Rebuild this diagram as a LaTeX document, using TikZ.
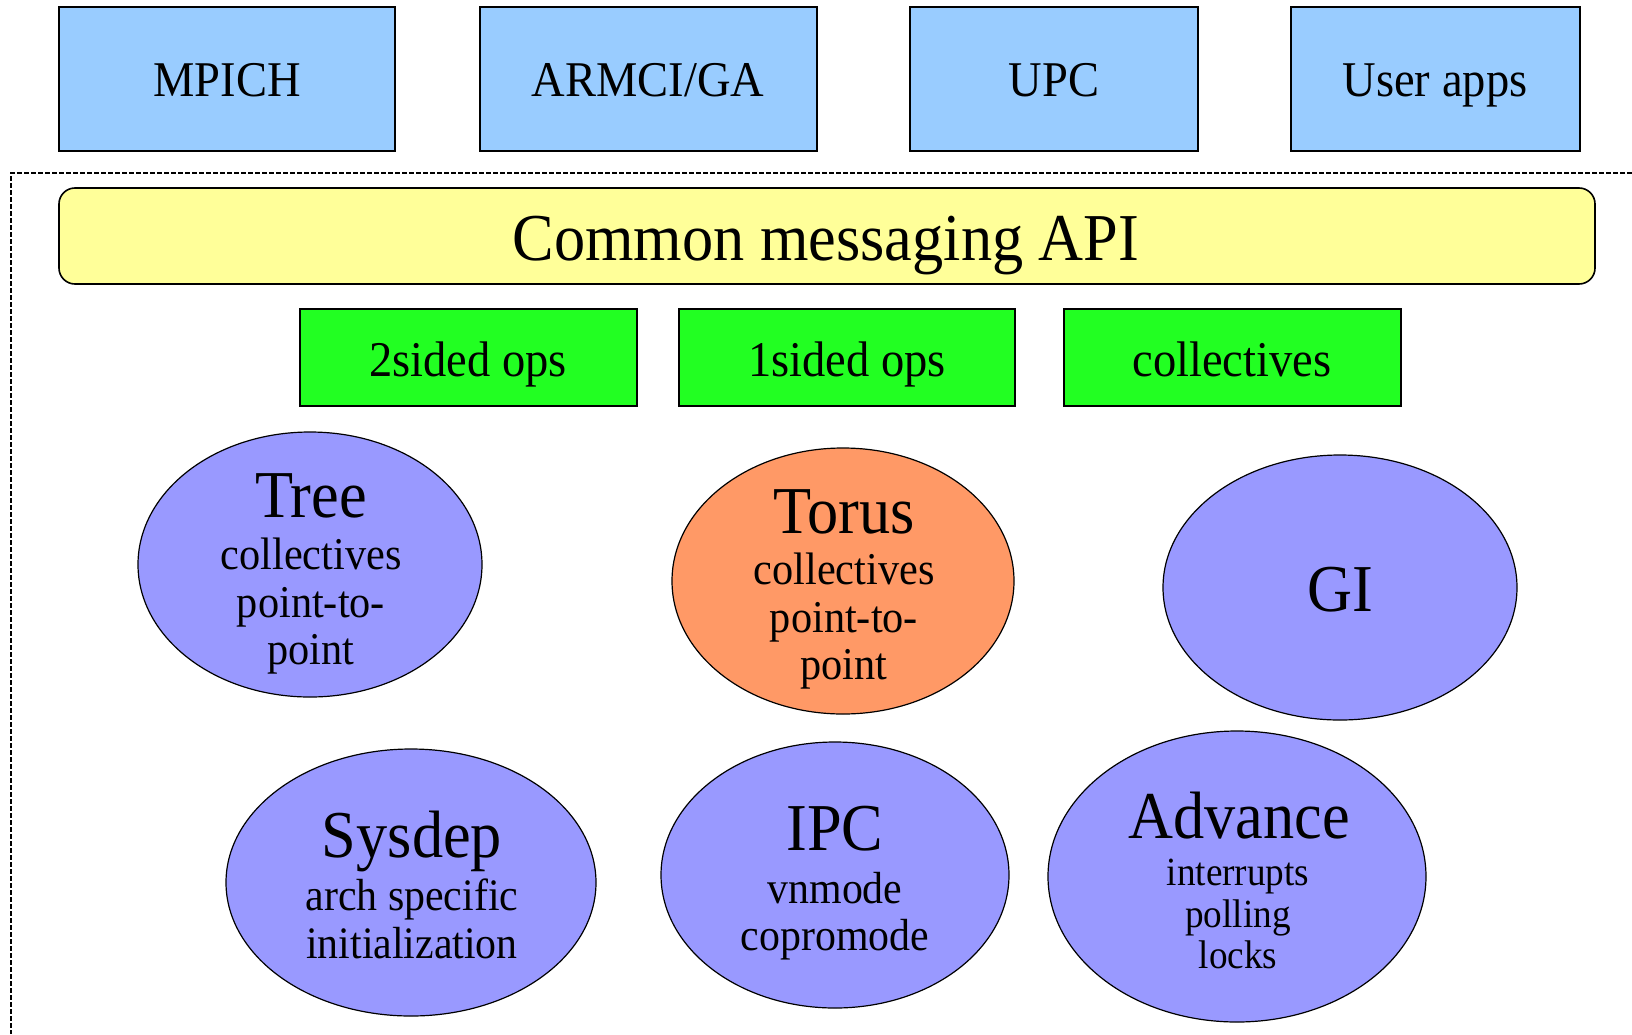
\documentclass[tikz,border=0pt]{standalone}
\usepackage{fontspec}
\usepackage{graphicx}
\setmainfont{Liberation Serif}
\usetikzlibrary{shapes.geometric}
\definecolor{boxblue}{HTML}{99CCFF}
\definecolor{apiyellow}{HTML}{FFFF99}
\definecolor{opsgreen}{HTML}{22FF22}
\definecolor{ellblue}{HTML}{9999FF}
\definecolor{ellorange}{HTML}{FF9966}
\newcommand\narrowtxt[1]{\scalebox{0.93}[1]{#1}}
\begin{document}
\begin{tikzpicture}[x=1bp,y=-1bp,
  topbox/.style={draw, line width=1.6bp, fill=boxblue, inner sep=0},
  opsbox/.style={draw, line width=1.6bp, fill=opsgreen, inner sep=0},
  apibox/.style={draw, line width=1.6bp, fill=apiyellow, rounded corners=16bp, inner sep=0},
  comp/.style={ellipse, draw, line width=1.2bp, fill=ellblue, inner sep=0},
  frameline/.style={line width=2bp, dash pattern=on 5bp off 2bp},
  lblM/.style={anchor=base, inner sep=0, font=\fontsize{50bp}{60bp}\selectfont},
  lblL/.style={anchor=base, inner sep=0, font=\fontsize{67bp}{80bp}\selectfont},
  lblS/.style={anchor=base, inner sep=0, font=\fontsize{45.5bp}{54bp}\selectfont},
  lblT/.style={anchor=base, inner sep=0, font=\fontsize{45bp}{54bp}\selectfont},
  lblU/.style={anchor=base, inner sep=0, font=\fontsize{40bp}{48bp}\selectfont}]
\useasboundingbox (0,0) rectangle (1632,1034);
\fill[white] (0,0) rectangle (1632,1034);

% top boxes
\node[topbox, minimum width=336bp, minimum height=144bp] (mpich) at (227,79) {};
\node[topbox, minimum width=337bp, minimum height=144bp] (armci) at (648.5,79) {};
\node[topbox, minimum width=288bp, minimum height=144bp] (upc) at (1054,79) {};
\node[topbox, minimum width=289bp, minimum height=144bp] (apps) at (1435.5,79) {};
\node[lblM] (mpichT) at (227,96) {\narrowtxt{MPICH}};
\node[lblM] (armciT) at (648,96) {\narrowtxt{ARMCI/GA}};
\node[lblM] (upcT) at (1054,96) {\narrowtxt{UPC}};
\node[lblM] (appsT) at (1435,96) {\narrowtxt{User apps}};

% dotted frame
\coordinate (fa) at (1632,173);
\coordinate (fb) at (11,173);
\coordinate (fc) at (11,1034);
\draw[frameline] (fa) -- (fb) -- (fc);

% common API
\node[apibox, minimum width=1536bp, minimum height=96bp] (api) at (827,236) {};
\node[lblL] (apiT) at (826,260) {\narrowtxt{Common messaging API}};

% ops boxes
\node[opsbox, minimum width=337bp, minimum height=97bp] (two) at (468.5,357.5) {};
\node[opsbox, minimum width=336bp, minimum height=97bp] (one) at (847,357.5) {};
\node[opsbox, minimum width=337bp, minimum height=97bp] (coll) at (1232.5,357.5) {};
\node[lblM] (twoT) at (468,376) {\narrowtxt{2sided ops}};
\node[lblM] (oneT) at (847,376) {\narrowtxt{1sided ops}};
\node[lblM] (collT) at (1232,376) {\narrowtxt{collectives}};

% ellipses
\node[comp, minimum width=344bp, minimum height=265bp] (tree) at (310,564.5) {};
\node[comp, fill=ellorange, minimum width=342bp, minimum height=266bp] (torus) at (843,581) {};
\node[comp, minimum width=354bp, minimum height=265bp] (gi) at (1340,587.5) {};
\node[comp, minimum width=370bp, minimum height=267bp] (sysdep) at (411,882.5) {};
\node[comp, minimum width=348bp, minimum height=266bp] (ipc) at (835,875) {};
\node[comp, minimum width=378bp, minimum height=291bp] (adv) at (1237,876.5) {};

% ellipse texts
\node[lblL] (treeA) at (311,517) {\narrowtxt{Tree}};
\node[lblS] (treeB) at (311,569) {\narrowtxt{collectives}};
\node[lblS] (treeC) at (311,617) {\narrowtxt{point-to-}};
\node[lblS] (treeD) at (311,664) {\narrowtxt{point}};

\node[lblL] (torusA) at (844,533) {\narrowtxt{Torus}};
\node[lblS] (torusB) at (844,584) {\narrowtxt{collectives}};
\node[lblS] (torusC) at (844,632) {\narrowtxt{point-to-}};
\node[lblS] (torusD) at (844,679) {\narrowtxt{point}};

\node[lblL] (giA) at (1340,611) {\narrowtxt{GI}};

\node[lblL] (sysA) at (412,857) {\narrowtxt{Sysdep}};
\node[lblT] (sysB) at (412,910) {\narrowtxt{arch specific}};
\node[lblT] (sysC) at (412,958) {\narrowtxt{initialization}};

\node[lblL] (ipcA) at (835,850) {\narrowtxt{IPC}};
\node[lblT] (ipcB) at (835,903) {\narrowtxt{vnmode}};
\node[lblT] (ipcC) at (835,950) {\narrowtxt{copromode}};

\node[lblL] (advA) at (1239,838) {\narrowtxt{Advance}};
\node[lblU] (advB) at (1238,885) {\narrowtxt{interrupts}};
\node[lblU] (advC) at (1238,927) {\narrowtxt{polling}};
\node[lblU] (advD) at (1238,968) {\narrowtxt{locks}};
\end{tikzpicture}
\end{document}
